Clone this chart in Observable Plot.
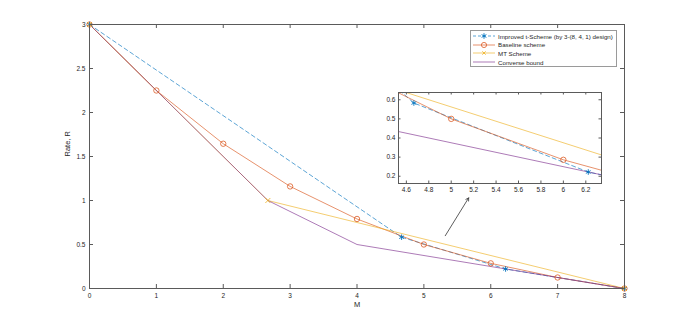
<!DOCTYPE html>
<html><head><meta charset="utf-8">
<script src="https://cdn.jsdelivr.net/npm/d3@7"></script>
<script src="https://cdn.jsdelivr.net/npm/@observablehq/plot@0.6"></script>
<style>
body{margin:0;background:#fff;}
#wrap{position:relative;width:689px;height:323px;font-family:"Liberation Sans",Arial,sans-serif;}
#inset{position:absolute;left:376px;top:90px;}
#legend{position:absolute;left:470px;top:30px;width:147px;height:37px;border:1px solid #9a9a9a;background:#fff;box-sizing:border-box;font-size:6.2px;color:#262626;padding-top:1px;}
#legend .row{display:flex;align-items:center;height:8.6px;white-space:nowrap;}
#legend svg{display:block;margin-left:2px;margin-right:3px;}
</style></head><body><div id="wrap"><div id="main"></div><div id="inset"></div><div id="legend"></div></div>
<script>
// ---- data ----
const improvedM = [0, 4.667, 6.222, 8];
const improvedR = [3, 0.583, 0.222, 0];
const baselineM = [0, 1, 2, 3, 4, 5, 6, 7, 8];
const baselineR = [3, 2.25, 1.645, 1.16, 0.79, 0.5, 0.286, 0.125, 0];
const mtM = [0, 2.667, 8];
const mtR = [3, 1, 0];
const converseM = [0, 2.667, 4, 8];
const converseR = [3, 1, 0.5, 0];
const seriesNames = ["Improved t-Scheme (by 3-(8, 4, 1) design)", "Baseline scheme", "MT Scheme", "Converse bound"];
const seriesColors = ["#0072BD", "#D95319", "#EDB120", "#7E2F8E"];
const xTicks = [0, 1, 2, 3, 4, 5, 6, 7, 8];
const yTicks = [0, 0.5, 1, 1.5, 2, 2.5, 3];
const insetXTicks = [4.6, 4.8, 5, 5.2, 5.4, 5.6, 5.8, 6, 6.2];
const insetYTicks = [0.2, 0.3, 0.4, 0.5, 0.6];
const insetXDomain = [4.53, 6.34];
const insetYDomain = [0.162, 0.638];
const arrowFrom = {M: 5.32, R: 0.60};
const arrowTo = {M: 5.67, R: 1.03};

const rows = (ms, rs) => ms.map((m, i) => ({m, r: rs[i]}));
const improved = rows(improvedM, improvedR);
const baseline = rows(baselineM, baselineR);
const mt = rows(mtM, mtR);
const converse = rows(converseM, converseR);

const axisColor = "#5a5a5a";
const textColor = "#262626";
const lw = 0.75;

function seriesMarks(clip) {
  return [
    Plot.line(improved, {x: "m", y: "r", stroke: seriesColors[0], strokeWidth: lw, strokeDasharray: "4,3", strokeOpacity: 0.85, clip}),
    Plot.line(baseline, {x: "m", y: "r", stroke: seriesColors[1], strokeWidth: lw, strokeOpacity: 0.85, clip}),
    Plot.line(mt, {x: "m", y: "r", stroke: seriesColors[2], strokeWidth: lw, strokeOpacity: 0.85, clip}),
    Plot.line(converse, {x: "m", y: "r", stroke: seriesColors[3], strokeWidth: lw, strokeOpacity: 0.85, clip}),
    Plot.dot(improved, {x: "m", y: "r", symbol: "asterisk", r: 2.6, stroke: seriesColors[0], strokeWidth: 0.9, clip}),
    Plot.dot(baseline, {x: "m", y: "r", symbol: "circle", r: 2.7, stroke: seriesColors[1], fill: "none", strokeWidth: 0.75, clip}),
    Plot.dot(mt, {x: "m", y: "r", symbol: "times", r: 2.4, stroke: seriesColors[2], strokeWidth: 0.8, clip})
  ];
}

function tickMarks(xt, yt, pw, ph, len) {
  return [
    Plot.tickX(xt, {x: d => d, stroke: axisColor, insetTop: ph - len}),
    Plot.tickX(xt, {x: d => d, stroke: axisColor, insetBottom: ph - len}),
    Plot.tickY(yt, {y: d => d, stroke: axisColor, insetRight: pw - len}),
    Plot.tickY(yt, {y: d => d, stroke: axisColor, insetLeft: pw - len})
  ];
}

// ---- main chart ----
const W = 689, H = 323, ml = 89, mr = 65, mt0 = 24, mb = 35;
const pw = W - ml - mr, ph = H - mt0 - mb;
const main = Plot.plot({
  width: W, height: H,
  marginLeft: ml, marginRight: mr, marginTop: mt0, marginBottom: mb,
  style: {fontFamily: "Liberation Sans, Arial, sans-serif", background: "transparent", color: textColor},
  x: {domain: [0, 8]},
  y: {domain: [0, 3]},
  marks: [
    ...seriesMarks(false),
    Plot.frame({stroke: axisColor, strokeWidth: 1}),
    ...tickMarks(xTicks, yTicks, pw, ph, 4),
    Plot.axisX({ticks: xTicks, tickSize: 0, tickPadding: 5, tickFormat: d => String(d), fontSize: 6.5, label: null, fill: textColor}),
    Plot.axisY({ticks: yTicks, tickSize: 0, tickPadding: 4, tickFormat: d => String(d), fontSize: 6.5, label: null, fill: textColor}),
    Plot.text(["M"], {frameAnchor: "bottom", dy: 18, fontSize: 7.5, fill: textColor}),
    Plot.text(["Rate, R"], {frameAnchor: "left", dx: -22, rotate: -90, fontSize: 7.5, fill: textColor}),
    Plot.arrow([{x1: arrowFrom.M, y1: arrowFrom.R, x2: arrowTo.M, y2: arrowTo.R}], {x1: "x1", y1: "y1", x2: "x2", y2: "y2", stroke: "#333", strokeWidth: 0.8, headLength: 6, bend: 0})
  ]
});
document.getElementById("main").appendChild(main);

// ---- inset ----
const iml = 22, imr = 2, imt = 2, imb = 14, ipw = 203, iph = 91;
const inset = Plot.plot({
  width: ipw + iml + imr, height: iph + imt + imb,
  marginLeft: iml, marginRight: imr, marginTop: imt, marginBottom: imb,
  style: {fontFamily: "Liberation Sans, Arial, sans-serif", background: "transparent", color: textColor},
  x: {domain: insetXDomain},
  y: {domain: insetYDomain},
  marks: [
    Plot.frame({fill: "white"}),
    ...seriesMarks(true),
    Plot.frame({stroke: axisColor, strokeWidth: 1}),
    ...tickMarks(insetXTicks, insetYTicks, ipw, iph, 2.5),
    Plot.axisX({ticks: insetXTicks, tickSize: 0, tickPadding: 4, tickFormat: d => String(d), fontSize: 6.5, label: null, fill: textColor}),
    Plot.axisY({ticks: insetYTicks, tickSize: 0, tickPadding: 3, tickFormat: d => String(d), fontSize: 6.5, label: null, fill: textColor})
  ]
});
document.getElementById("inset").appendChild(inset);

// ---- legend ----
const legend = document.getElementById("legend");
const sym = [
  (c) => `<path d="M11,1.2V6.8M8.6,2.6L13.4,5.4M8.6,5.4L13.4,2.6" stroke="${c}" stroke-width="0.9"/>`,
  (c) => `<circle cx="11" cy="4" r="2.6" fill="none" stroke="${c}" stroke-width="0.75"/>`,
  (c) => `<path d="M9.3,2.3L12.7,5.7M9.3,5.7L12.7,2.3" stroke="${c}" stroke-width="0.8"/>`,
  () => ``
];
seriesNames.forEach((name, i) => {
  const row = document.createElement("div");
  row.className = "row";
  const dash = i === 0 ? ` stroke-dasharray="3,2"` : "";
  row.innerHTML = `<svg width="22" height="8"><line x1="0" y1="4" x2="22" y2="4" stroke="${seriesColors[i]}" stroke-width="${lw}" stroke-opacity="0.85"${dash}/>${sym[i](seriesColors[i])}</svg><span>${name}</span>`;
  legend.appendChild(row);
});
</script>
</body></html>
